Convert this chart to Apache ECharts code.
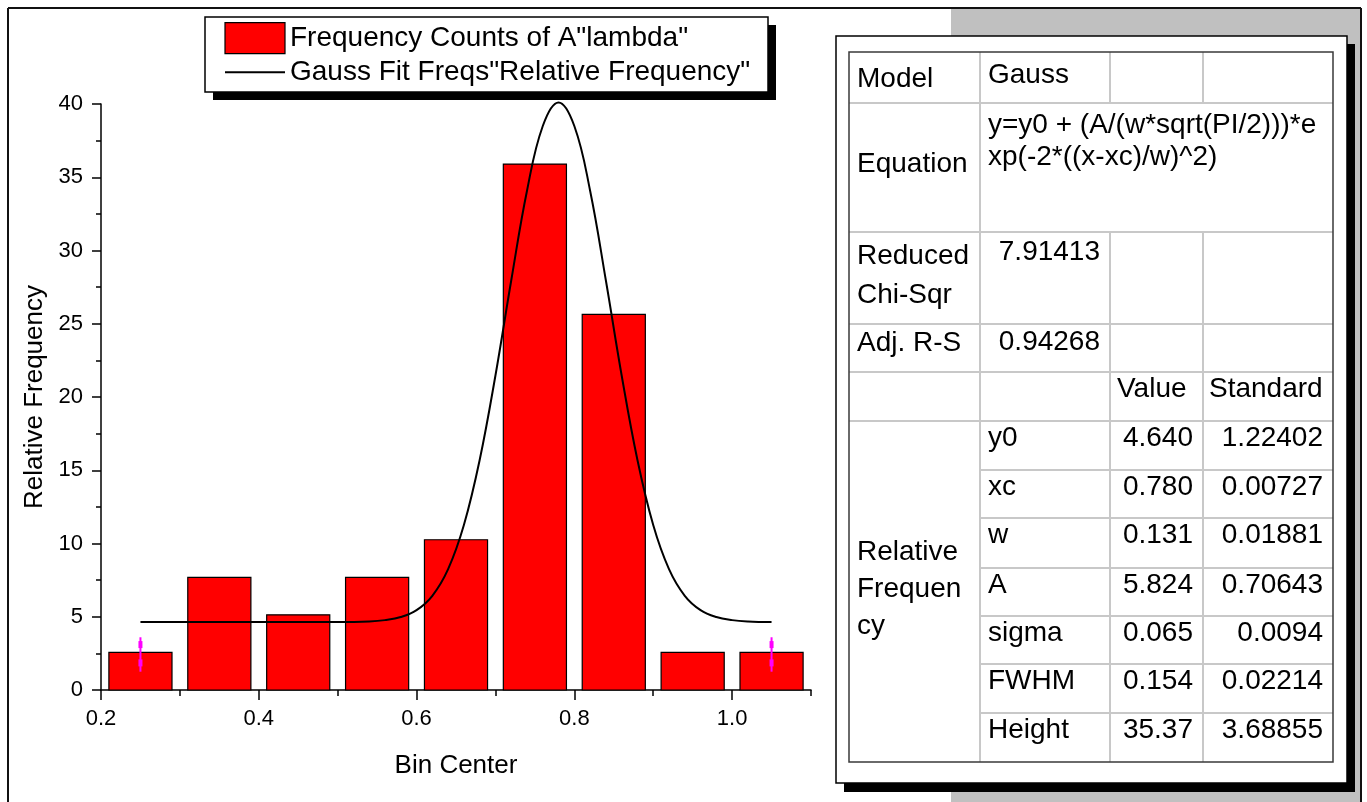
<!DOCTYPE html>
<html>
<head>
<meta charset="utf-8">
<script src="https://cdn.jsdelivr.net/npm/echarts@6/dist/echarts.min.js"></script>
<style>
  html, body { margin: 0; padding: 0; background: #fff; }
  #chart { width: 1367px; height: 802px; }
</style>
</head>
<body>
<div id="chart"></div>
<script>
// ---- Histogram: bin centres and relative frequency (%) ----
const binCenters = [0.25, 0.35, 0.45, 0.55, 0.65, 0.75, 0.85, 0.95, 1.05];
const relFrequency = [2.564, 7.692, 5.128, 7.692, 10.256, 35.897, 25.641, 2.564, 2.564];
const binWidth = 0.08;

// ---- Gauss fit curve, sampled along the bin range ----
const fitX = [0.25, 0.30, 0.35, 0.40, 0.45, 0.50, 0.54, 0.56, 0.58, 0.60, 0.62, 0.64, 0.66, 0.68,
              0.70, 0.72, 0.74, 0.76, 0.78, 0.80, 0.82, 0.84, 0.86, 0.88, 0.90, 0.92, 0.94, 0.96,
              0.98, 1.00, 1.02, 1.05];
const fitY = [4.64, 4.64, 4.64, 4.64, 4.64, 4.64, 4.68, 4.77, 4.98, 5.45, 6.43, 8.25, 11.26, 15.70,
              21.47, 27.95, 34.08, 38.50, 40.11, 38.50, 34.08, 27.95, 21.47, 15.70, 11.26, 8.25, 6.43, 5.45,
              4.98, 4.77, 4.68, 4.64];

// ---- Magenta end markers on the outer bins ----
const markX = [0.25, 1.05];
const markTop = [3.6, 3.6];
const markBottom = [1.25, 1.25];
const markUpper = [3.1, 3.1];
const markLower = [1.85, 1.85];

// ---- Axes ----
const xMin = 0.2, xMax = 1.1, xStep = 0.2, xMinorStep = 0.1;
const yMin = 0, yMax = 40, yStep = 5;
const xTitle = 'Bin Center';
const yTitle = 'Relative Frequency';
const seriesNames = ['Frequency Counts of A"lambda"', 'Gauss Fit Freqs"Relative Frequency"'];

// ---- Fit report table ----
const fitModel = 'Gauss';
const fitEquation = ['y=y0 + (A/(w*sqrt(PI/2)))*e', 'xp(-2*((x-xc)/w)^2)'];
const reducedChiSqr = '7.91413';
const adjRSquare = '0.94268';
const paramGroup = ['Relative', 'Frequen', 'cy'];
const paramNames = ['y0', 'xc', 'w', 'A', 'sigma', 'FWHM', 'Height'];
const paramValues = ['4.640', '0.780', '0.131', '5.824', '0.065', '0.154', '35.37'];
const paramErrors = ['1.22402', '0.00727', '0.01881', '0.70643', '0.0094', '0.02214', '3.68855'];

// ---------------------------------------------------------------
const FONT = 'Liberation Sans, Arial, sans-serif';
const chart = echarts.init(document.getElementById('chart'), null, { renderer: 'canvas' });

// Page frame, grey layer area, legend frame and the fit report panel
const colX = [849, 980, 1110, 1203, 1333];
const rowY = [52, 103, 232, 324, 372, 421, 470, 518, 568, 616, 664, 713, 762];
const gridLine = { stroke: '#c8c8c8', lineWidth: 2 };
const g = [];
g.push({ type: 'rect', z: -10, silent: true, shape: { x: 951, y: 8, width: 410, height: 794 }, style: { fill: '#c0c0c0' } });
g.push({ type: 'line', silent: true, shape: { x1: 8, y1: 8, x2: 1361, y2: 8 }, style: { stroke: '#111', lineWidth: 2 } });
g.push({ type: 'line', silent: true, shape: { x1: 8, y1: 8, x2: 8, y2: 802 }, style: { stroke: '#111', lineWidth: 2 } });
g.push({ type: 'line', silent: true, shape: { x1: 1361, y1: 8, x2: 1361, y2: 802 }, style: { stroke: '#111', lineWidth: 2 } });
// legend frame with its drop shadow
g.push({ type: 'rect', silent: true, shape: { x: 213, y: 25, width: 563, height: 75 }, style: { fill: '#000' } });
g.push({ type: 'rect', silent: true, shape: { x: 205, y: 17, width: 563, height: 75 }, style: { fill: '#fff', stroke: '#000', lineWidth: 1.5 } });
// report panel with its drop shadow
g.push({ type: 'rect', silent: true, shape: { x: 844, y: 44, width: 511, height: 748 }, style: { fill: '#000' } });
g.push({ type: 'rect', silent: true, shape: { x: 836, y: 36, width: 511, height: 747 }, style: { fill: '#fff', stroke: '#000', lineWidth: 1.5 } });

function hLine(x1, x2, y) { g.push({ type: 'line', silent: true, shape: { x1, y1: y, x2, y2: y }, style: gridLine }); }
function vLine(x, y1, y2) { g.push({ type: 'line', silent: true, shape: { x1: x, y1, x2: x, y2 }, style: gridLine }); }
for (let r = 1; r <= 5; r++) hLine(colX[0], colX[4], rowY[r]);
for (let r = 6; r <= 11; r++) hLine(colX[1], colX[4], rowY[r]);
vLine(colX[1], rowY[0], rowY[12]);
[colX[2], colX[3]].forEach(x => { vLine(x, rowY[0], rowY[1]); vLine(x, rowY[2], rowY[12]); });
g.push({ type: 'rect', silent: true, shape: { x: colX[0], y: rowY[0], width: colX[4] - colX[0], height: rowY[12] - rowY[0] },
         style: { fill: 'none', stroke: '#3a3a3a', lineWidth: 1.5 } });

function txt(x, y, text, align, lineHeight) {
  g.push({ type: 'text', silent: true, x, y,
    style: { text, fill: '#000', fontSize: 28, fontFamily: FONT, align, verticalAlign: 'middle', lineHeight: lineHeight || 32 } });
}
const padL = 8, padR = 10;
txt(colX[0] + padL, 79, 'Model', 'left');
txt(colX[1] + padL, 75, fitModel, 'left');
txt(colX[0] + padL, 164, 'Equation', 'left');
txt(colX[1] + padL, 141, fitEquation.join('\n'), 'left', 32);
txt(colX[0] + padL, 276, 'Reduced\nChi-Sqr', 'left', 39);
txt(colX[2] - padR, 252, reducedChiSqr, 'right');
txt(colX[0] + padL, 343, 'Adj. R-S', 'left');
txt(colX[2] - padR, 342, adjRSquare, 'right');
txt(colX[2] + 7, 389, 'Value', 'left');
txt(colX[3] + 6, 389, 'Standard', 'left');
txt(colX[0] + padL, 589, paramGroup.join('\n'), 'left', 37);
paramNames.forEach((name, i) => {
  const yMid = rowY[5 + i] + 17;
  txt(colX[1] + padL, yMid, name, 'left');
  txt(colX[3] - padR, yMid, paramValues[i], 'right');
  txt(colX[4] - padR, yMid, paramErrors[i], 'right');
});

const axisBlack = { color: '#000', width: 1.5 };

const option = {
  animation: false,
  backgroundColor: '#fff',
  grid: { left: 101, top: 104, width: 710, height: 586 },
  legend: {
    left: 205, top: 17, orient: 'vertical',
    itemWidth: 60, itemHeight: 31, itemGap: 4,
    padding: [5, 19, 4, 19],
    backgroundColor: 'transparent', borderWidth: 0,
    selectedMode: false,
    textStyle: { fontSize: 28, fontFamily: FONT, color: '#000' },
    data: [
      { name: seriesNames[0], icon: 'rect', itemStyle: { color: '#ff0000', borderColor: '#000', borderWidth: 1.2 } },
      { name: seriesNames[1], itemStyle: { color: 'rgba(0,0,0,0)', borderWidth: 0, opacity: 0 },
        lineStyle: { color: '#000', width: 2 } }
    ]
  },
  xAxis: [
    {
      type: 'value', min: xMin, max: xMax, interval: xStep, position: 'bottom',
      name: xTitle, nameLocation: 'middle', nameGap: 63,
      nameTextStyle: { fontSize: 26, fontFamily: FONT, color: '#000' },
      axisLine: { show: true, lineStyle: axisBlack },
      axisTick: { show: true, inside: false, length: 10, lineStyle: axisBlack },
      axisLabel: { show: true, showMaxLabel: false, margin: 18, fontSize: 22, fontFamily: FONT, color: '#000',
                   formatter: v => v.toFixed(1) },
      splitLine: { show: false }
    },
    {
      type: 'value', min: xMin, max: xMax, interval: xMinorStep, position: 'bottom',
      axisLine: { show: false },
      axisTick: { show: true, inside: false, length: 6, lineStyle: axisBlack },
      axisLabel: { show: false },
      splitLine: { show: false }
    }
  ],
  yAxis: {
    type: 'value', min: yMin, max: yMax, interval: yStep,
    name: yTitle, nameLocation: 'middle', nameGap: 48,
    nameTextStyle: { fontSize: 26, fontFamily: FONT, color: '#000' },
    axisLine: { show: true, lineStyle: axisBlack },
    axisTick: { show: true, inside: false, length: 9, lineStyle: axisBlack },
    minorTick: { show: true, splitNumber: 2, length: 5, lineStyle: axisBlack },
    axisLabel: { margin: 18, fontSize: 22, fontFamily: FONT, color: '#000' },
    splitLine: { show: false }
  },
  graphic: g,
  series: [
    {
      name: seriesNames[0],
      type: 'custom',
      xAxisIndex: 0,
      itemStyle: { color: '#ff0000', borderColor: '#000', borderWidth: 1.2 },
      encode: { x: 0, y: 1 },
      data: binCenters.map((c, i) => [c, relFrequency[i]]),
      renderItem(params, api) {
        const c = api.value(0), v = api.value(1);
        const p0 = api.coord([c - binWidth / 2, v]);
        const p1 = api.coord([c + binWidth / 2, 0]);
        return {
          type: 'rect',
          shape: { x: p0[0], y: p0[1], width: p1[0] - p0[0], height: p1[1] - p0[1] },
          style: { fill: '#ff0000', stroke: '#000', lineWidth: 1.2 }
        };
      },
      z: 2
    },
    {
      name: seriesNames[1],
      type: 'line',
      xAxisIndex: 0,
      data: fitX.map((x, i) => [x, fitY[i]]),
      smooth: 0.4,
      symbol: 'none',
      clip: false,
      lineStyle: { color: '#000', width: 2 },
      itemStyle: { color: '#000' },
      z: 4
    },
    {
      name: 'markers',
      type: 'custom',
      xAxisIndex: 0,
      encode: { x: 0, y: [1, 2, 3, 4] },
      data: markX.map((x, i) => [x, markTop[i], markBottom[i], markUpper[i], markLower[i]]),
      renderItem(params, api) {
        const x = api.value(0);
        const t = api.coord([x, api.value(1)]);
        const b = api.coord([x, api.value(2)]);
        const m1 = api.coord([x, api.value(3)]);
        const m2 = api.coord([x, api.value(4)]);
        const col = '#ff00ff';
        return {
          type: 'group',
          children: [
            { type: 'line', shape: { x1: t[0], y1: t[1], x2: b[0], y2: b[1] }, style: { stroke: col, lineWidth: 2 } },
            { type: 'rect', shape: { x: m1[0] - 2, y: m1[1] - 3.5, width: 4, height: 7 }, style: { fill: col } },
            { type: 'rect', shape: { x: m2[0] - 2, y: m2[1] - 3.5, width: 4, height: 7 }, style: { fill: col } }
          ]
        };
      },
      z: 5
    }
  ]
};
chart.setOption(option);
</script>
</body>
</html>
